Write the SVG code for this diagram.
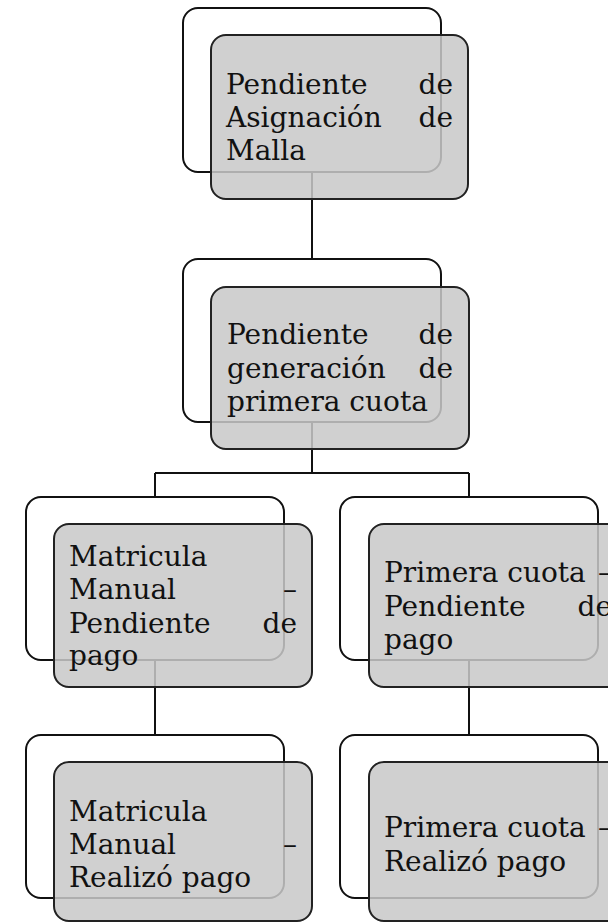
<svg xmlns="http://www.w3.org/2000/svg" width="608" height="923" viewBox="0 0 608 923">
<style>
.back{fill:#ffffff;stroke:#111;stroke-width:2}
.front{fill:#c8c8c8;fill-opacity:0.86;stroke:#222;stroke-width:2}
.conn{fill:none;stroke:#111;stroke-width:2}
text{font-family:"DejaVu Serif","Liberation Serif",serif;font-size:28px;fill:#111}
.r{text-anchor:end}
</style>
<rect width="608" height="923" fill="#ffffff"/>
<g id="connectors">
<path class="conn" d="M312,172 V259"/>
<path class="conn" d="M312,422 V473 M155,473 H469 M155,473 V497 M469,473 V497"/>
<path class="conn" d="M155,660 V735"/>
<path class="conn" d="M469,660 V735"/>
</g>
<g id="node1">
<rect class="back" x="183" y="8" width="258" height="164" rx="15"/>
<rect class="front" x="211" y="35" width="257" height="164" rx="15"/>
<text x="226" y="94">Pendiente</text><text class="r" x="453" y="94">de</text>
<text x="226" y="127">Asignación</text><text class="r" x="453" y="127">de</text>
<text x="226" y="160">Malla</text>
</g>
<g id="node2">
<rect class="back" x="183" y="259" width="258" height="163" rx="15"/>
<rect class="front" x="211" y="287" width="258" height="162" rx="15"/>
<text x="227" y="344">Pendiente</text><text class="r" x="453" y="344">de</text>
<text x="227" y="378">generación</text><text class="r" x="453" y="378">de</text>
<text x="227" y="411">primera cuota</text>
</g>
<g id="node3">
<rect class="back" x="26" y="497" width="258" height="163" rx="15"/>
<rect class="front" x="54" y="524" width="258" height="163" rx="15"/>
<text x="69" y="566">Matricula</text>
<text x="69" y="599">Manual</text><text class="r" x="297" y="599">–</text>
<text x="69" y="633">Pendiente</text><text class="r" x="297" y="633">de</text>
<text x="69" y="665">pago</text>
</g>
<g id="node4">
<rect class="back" x="340" y="497" width="258" height="163" rx="15"/>
<rect class="front" x="369" y="524" width="258" height="163" rx="15"/>
<text x="384" y="582">Primera cuota</text><text class="r" x="612" y="582">–</text>
<text x="384" y="616">Pendiente</text><text class="r" x="612" y="616">de</text>
<text x="384" y="649">pago</text>
</g>
<g id="node5">
<rect class="back" x="26" y="735" width="258" height="163" rx="15"/>
<rect class="front" x="54" y="762" width="258" height="159" rx="15"/>
<text x="69" y="821">Matricula</text>
<text x="69" y="854">Manual</text><text class="r" x="297" y="854">–</text>
<text x="69" y="887">Realizó pago</text>
</g>
<g id="node6">
<rect class="back" x="340" y="735" width="258" height="163" rx="15"/>
<rect class="front" x="369" y="762" width="258" height="159" rx="15"/>
<text x="384" y="837">Primera cuota</text><text class="r" x="612" y="837">–</text>
<text x="384" y="871">Realizó pago</text>
</g>
</svg>
